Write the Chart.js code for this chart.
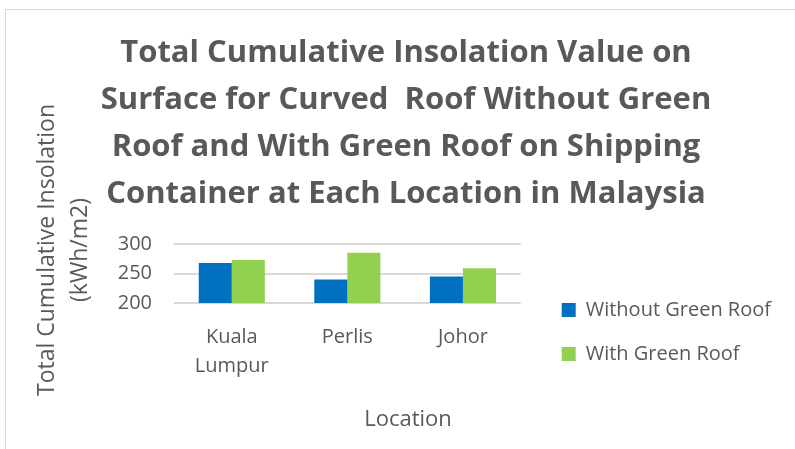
<!DOCTYPE html>
<html>
<head>
<meta charset="utf-8">
<script src="https://cdn.jsdelivr.net/npm/chart.js@4.4.0/dist/chart.umd.min.js"></script>
<style>
  html, body { margin: 0; padding: 0; background: #fff; }
</style>
</head>
<body>
<canvas id="insolationChart" width="795" height="449"></canvas>
<script>
const locations = [['Kuala', 'Lumpur'], 'Perlis', 'Johor'];
const withoutGreenRoof = [268, 240, 245];
const withGreenRoof = [273, 285, 259];
const yTicks = [200, 250, 300];
const chartTitle = [
  'Total Cumulative Insolation Value on',
  'Surface for Curved  Roof Without Green',
  'Roof and With Green Roof on Shipping',
  'Container at Each Location in Malaysia',
];
const yAxisTitle = ['Total Cumulative Insolation', '(kWh/m2)'];
const xAxisTitle = 'Location';

const textColor = '#595959';
const fontFamily = "'Open Sans'";

// frame line and the two axis titles, placed where Excel put them
const frameAndTitles = {
  id: 'frameAndTitles',
  beforeDraw(chart) {
    const c = chart.ctx;
    c.save();
    c.fillStyle = '#fff';
    c.fillRect(0, 0, chart.width, chart.height);
    c.strokeStyle = '#d9d9d9';
    c.lineWidth = 1;
    c.beginPath();
    c.moveTo(5.5, chart.height);
    c.lineTo(5.5, 9.5);
    c.lineTo(chart.width, 9.5);
    c.stroke();
    c.restore();
  },
  afterDraw(chart) {
    const c = chart.ctx;
    c.save();
    c.fillStyle = textColor;
    c.textAlign = 'center';
    c.textBaseline = 'middle';
    c.font = `23px ${fontFamily}`;
    c.translate(47, 250);
    c.rotate(-Math.PI / 2);
    yAxisTitle.forEach((line, i) => c.fillText(line, 0, i * 33));
    c.restore();

    c.save();
    c.fillStyle = textColor;
    c.textAlign = 'center';
    c.textBaseline = 'middle';
    c.font = `22px ${fontFamily}`;
    c.fillText(xAxisTitle, 408, 420);
    c.restore();
  },
};

const ctx = document.getElementById('insolationChart').getContext('2d');

new Chart(ctx, {
  type: 'bar',
  data: {
    labels: locations,
    datasets: [
      {
        label: 'Without Green Roof',
        data: withoutGreenRoof,
        backgroundColor: '#0070c0',
        borderWidth: 0,
      },
      {
        label: 'With Green Roof',
        data: withGreenRoof,
        backgroundColor: '#92d050',
        borderWidth: 0,
      },
    ],
  },
  options: {
    responsive: false,
    animation: false,
    layout: {
      padding: { left: 31, right: 14, top: 0, bottom: 0 },
    },
    datasets: {
      bar: { barPercentage: 1, categoryPercentage: 0.572 },
    },
    plugins: {
      tooltip: { enabled: false },
      title: {
        display: true,
        text: chartTitle,
        color: textColor,
        font: { family: fontFamily, size: 31, weight: 'bold', lineHeight: 47 / 31 },
        padding: { top: 30, bottom: 26 },
      },
      legend: {
        position: 'right',
        align: 'start',
        maxWidth: 400,
        title: {
          display: true,
          text: ' ',
          font: { size: 10, lineHeight: 1 },
          padding: { top: 266, bottom: 0 },
        },
        labels: {
          color: textColor,
          font: { family: fontFamily, size: 20 },
          boxWidth: 14,
          boxHeight: 14,
          padding: 24,
        },
      },
    },
    scales: {
      x: {
        grid: { display: false },
        border: { display: false },
        ticks: {
          color: textColor,
          font: { family: fontFamily, size: 20, lineHeight: 1.45 },
          padding: 12,
          maxRotation: 0,
        },
        afterFit: (scale) => { scale.height = 146; },
      },
      y: {
        min: yTicks[0],
        max: yTicks[yTicks.length - 1],
        grid: { color: '#d9d9d9', lineWidth: 2, drawTicks: false },
        border: { display: false },
        ticks: {
          stepSize: yTicks[1] - yTicks[0],
          color: textColor,
          font: { family: fontFamily, size: 20 },
          padding: 22,
        },
        afterFit: (scale) => { scale.width = 143; },
      },
      // empty right axis, only keeps a gap between the plot and the legend
      gap: {
        position: 'right',
        grid: { display: false },
        border: { display: false },
        ticks: { display: false },
        afterFit: (scale) => { scale.width = 17; },
      },
    },
  },
  plugins: [frameAndTitles],
});
</script>
</body>
</html>
